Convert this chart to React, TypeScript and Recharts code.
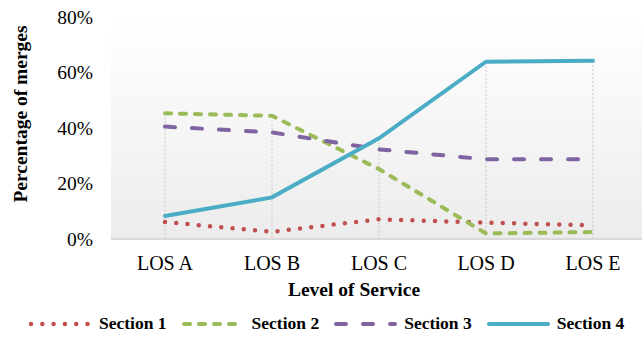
import React from "react";
import {
  LineChart,
  Line,
  XAxis,
  YAxis,
  CartesianGrid,
  ReferenceLine,
  Legend,
} from "recharts";

const categories = ["LOS A", "LOS B", "LOS C", "LOS D", "LOS E"];
const section1 = [6.1, 2.6, 7.1, 5.9, 4.9];
const section2 = [45.3, 44.4, 25.2, 2.0, 2.5];
const section3 = [40.5, 38.4, 32.3, 28.7, 28.7];
const section4 = [8.3, 15.0, 36.3, 63.9, 64.2];
const yTicks = [0, 20, 40, 60, 80];

const FONT = '"Liberation Serif", "Times New Roman", serif';

const data = categories.map((name, i) => ({
  name,
  s1: section1[i],
  s2: section2[i],
  s3: section3[i],
  s4: section4[i],
  top: Math.max(section1[i], section2[i], section3[i], section4[i]),
}));

const SERIES = [
  { key: "s1", name: "Section 1", color: "#C0504D", width: 4.5, dash: "0 11.3" },
  { key: "s2", name: "Section 2", color: "#9BBB59", width: 4, dash: "6 9" },
  { key: "s3", name: "Section 3", color: "#8064A2", width: 4, dash: "10 17" },
  { key: "s4", name: "Section 4", color: "#4BACC6", width: 4, dash: undefined },
];

const LegendContent = () => (
  <div
    style={{
      display: "flex",
      justifyContent: "flex-start",
      alignItems: "center",
      paddingLeft: 28,
      paddingTop: 3,
      height: 34,
      boxSizing: "border-box",
      fontFamily: FONT,
      fontWeight: "bold",
      fontSize: 17.5,
      color: "#000",
    }}
  >
    {SERIES.map((s, i) => (
      <div key={s.key} style={{ display: "flex", alignItems: "center", marginRight: i < 3 ? 14 : 0 }}>
        <svg width={65} height={10} style={{ marginRight: 6 }}>
          <line
            x1={3}
            y1={5}
            x2={62}
            y2={5}
            stroke={s.color}
            strokeWidth={s.width}
            strokeDasharray={s.dash}
            strokeLinecap="round"
          />
        </svg>
        <span>{s.name}</span>
      </div>
    ))}
  </div>
);

export default function App() {
  return (
    <div style={{ position: "absolute", left: 0, top: 0, width: 642, height: 339, background: "#fff" }}>
      <LineChart
        width={642}
        height={339}
        data={data}
        margin={{ top: 17, right: 0, bottom: 0, left: 0 }}
      >
        <defs>
          <linearGradient id="plotBg" x1="0" y1="0" x2="0" y2="1">
            <stop offset="0%" stopColor="#ffffff" />
            <stop offset="100%" stopColor="#ececec" />
          </linearGradient>
        </defs>
        <CartesianGrid horizontal={false} vertical={false} fill="url(#plotBg)" />
        <XAxis
          dataKey="name"
          height={66}
          padding={{ left: 54, right: 49 }}
          tickSize={0}
          tickMargin={17}
          tick={{ fontSize: 20, fill: "#000", fontFamily: FONT }}
          axisLine={{ stroke: "#d9d9d9", strokeWidth: 2 }}
          tickLine={false}
          label={{
            content: () => (
              <text x={354} y={296} textAnchor="middle" fontFamily={FONT} fontWeight="bold" fontSize={19.5} fill="#000">
                Level of Service
              </text>
            ),
          }}
        />
        <YAxis
          width={111}
          domain={[0, 80]}
          ticks={yTicks}
          tickFormatter={(v: number) => `${v}%`}
          tickSize={0}
          tickMargin={18}
          tick={{ fontSize: 19.5, fill: "#000", fontFamily: FONT }}
          axisLine={false}
          tickLine={false}
          label={{
            content: () => (
              <text
                x={20}
                y={114}
                transform="rotate(-90 20 114)"
                textAnchor="middle"
                dominantBaseline="central"
                fontFamily={FONT}
                fontWeight="bold"
                fontSize={19.5}
                fill="#000"
              >
                Percentage of merges
              </text>
            ),
          }}
        />
        {data.map((d) => (
          <ReferenceLine
            key={d.name}
            segment={[
              { x: d.name, y: d.top },
              { x: d.name, y: 0 },
            ]}
            stroke="#c4c4c4"
            strokeWidth={1}
            strokeDasharray="2 2"
          />
        ))}
        {SERIES.map((s) => (
          <Line
            key={s.key}
            type="linear"
            dataKey={s.key}
            name={s.name}
            stroke={s.color}
            strokeWidth={s.width}
            strokeDasharray={s.dash}
            strokeLinecap="round"
            dot={false}
            activeDot={false}
            isAnimationActive={false}
          />
        ))}
        <Legend
          content={<LegendContent />}
          wrapperStyle={{ position: "absolute", left: 0, top: 305, width: 642, height: 34 }}
        />
      </LineChart>
    </div>
  );
}
